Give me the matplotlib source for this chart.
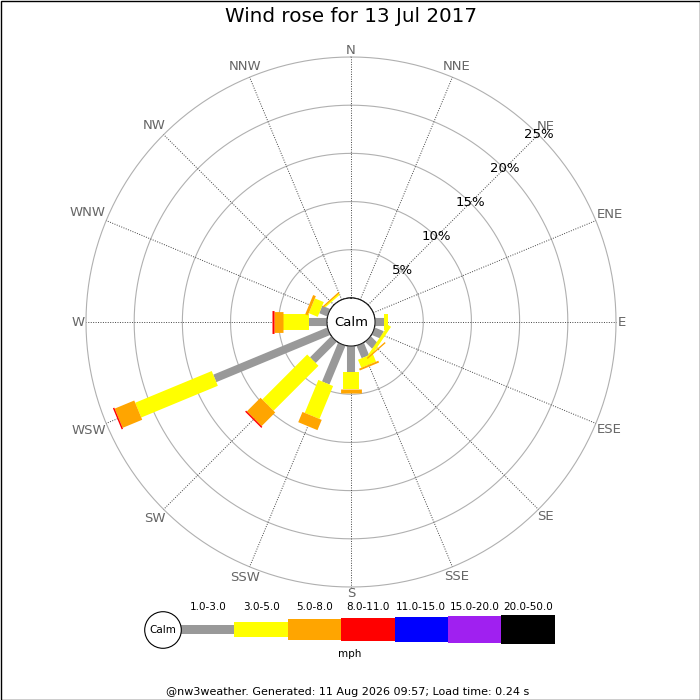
import numpy as np
import matplotlib
matplotlib.use('Agg')
import matplotlib.pyplot as plt
from matplotlib.patches import Rectangle, Circle

# wind directions (compass order)
dirs = ['N', 'NNE', 'NE', 'ENE', 'E', 'ESE', 'SE', 'SSE',
        'S', 'SSW', 'SW', 'WSW', 'W', 'WNW', 'NW', 'NNW']

# percentage of day in each speed class per direction (mph)
spd_labels = ['1.0-3.0', '3.0-5.0', '5.0-8.0', '8.0-11.0', '11.0-15.0', '15.0-20.0', '20.0-50.0']
pct_1_3 = [0, 0, 0, 0, 0.95, 1.0, 1.0, 1.4, 2.7, 4.35, 3.1, 12.8, 1.85, 0.9, 0, 0]
pct_3_5 = [0, 0, 0, 0, 0.4, 0, 0, 0.9, 1.8, 3.7, 6.6, 8.6, 2.75, 1.0, 0, 0]
pct_5_8 = [0, 0, 0, 0, 0, 0, 0, 0.2, 0.4, 1.15, 2.0, 2.2, 0.9, 0.3, 0, 0]
pct_8_11 = [0, 0, 0, 0, 0, 0, 0, 0, 0, 0, 0.15, 0.15, 0.15, 0, 0, 0]
classes = [pct_1_3, pct_3_5, pct_5_8, pct_8_11]

colours = ['#999999', '#ffff00', '#ffa500', '#ff0000', '#0000ff', '#a020f0', '#000000']
widths = [5.8, 11.5, 15, 16.5, 17.5, 19, 20]   # bar thickness in points
rings = [5, 10, 15, 20, 25]

fig = plt.figure(figsize=(7, 7), dpi=100)
ax = fig.add_axes([86/700, 113/700, 530/700, 530/700], projection='polar')
ax.set_theta_zero_location('N')
ax.set_theta_direction(-1)
ax.set_rorigin(-2.5)
ax.set_ylim(0, 25)
ax.grid(False)
ax.set_xticks([])
ax.set_yticks([])
ax.spines['polar'].set_visible(False)

theta = np.deg2rad(np.arange(16) * 22.5)
full = np.linspace(0, 2*np.pi, 361)
scale = 265 / 27.5   # pixels per percent

# rings
for r in rings:
    ax.plot(full, [r]*len(full), color='#b0b0b0', lw=0.8, zorder=1, clip_on=False)
    ax.text(np.deg2rad(45), r, '%d%%' % r, ha='center', va='center', fontsize=9.5, zorder=6)

# spokes + labels (pushed out so the text edge sits just outside the outer ring)
renderer = fig.canvas.get_renderer()
for t, d in zip(theta, dirs):
    ax.plot([t, t], [0, 25], color='#444444', lw=0.7, ls=(0, (1, 1.5)), zorder=1, clip_on=False)
    txt = ax.text(t, 25, d, ha='center', va='center', fontsize=9.5, color='#666666')
    bb = txt.get_window_extent(renderer)
    half = abs(np.sin(t)) * bb.width / 2 + abs(np.cos(t)) * bb.height * 0.7 / 2
    txt.set_position((t, (265 + 1.5 + half) / scale - 2.5))

# calm circle
ax.plot(full, [0]*len(full), color='#333333', lw=0.8, zorder=5)
ax.text(0, -2.5, 'Calm', ha='center', va='center', fontsize=9.5, zorder=6)

# stacked bars
base = np.zeros(16)
for vals, c, w in zip(classes, colours, widths):
    vals = np.array(vals)
    for i in range(16):
        if vals[i] > 0:
            ax.plot([theta[i], theta[i]], [base[i], base[i] + vals[i]], color=c, lw=w,
                    solid_capstyle='butt', zorder=3)
    base = base + vals

# odd thin arcs seen around E and NNW
ax.plot(np.deg2rad([98, 150]), [1.45, 1.45], color='#ffff00', lw=2.4, zorder=3)
ax.plot(np.deg2rad([122, 155]), [1.62, 1.62], color='#ffa500', lw=1.0, zorder=3)
ax.plot(np.deg2rad([300, 336]), [0.75, 0.75], color='#ffa500', lw=1.2, zorder=3)
ax.plot(np.deg2rad([302, 336]), [0.6, 0.6], color='#ffff00', lw=1.0, zorder=3)

fig.text(351/700, 1 - 17/700, 'Wind rose for 13 Jul 2017', ha='center', va='center', fontsize=14.3)

# legend in pixel coordinates
lg = fig.add_axes([0, 0, 1, 1], facecolor='none')
lg.set_xlim(0, 700)
lg.set_ylim(700, 0)
lg.axis('off')
heights = [8.3, 15, 20.3, 23, 25, 26.7, 28.3]
x0 = 181
seg = 53.4
yc = 629.5
for k in range(7):
    lg.add_patch(Rectangle((x0 + k*seg, yc - heights[k]/2), seg, heights[k], color=colours[k], lw=0))
    lg.text(x0 + k*seg + seg/2, 607, spd_labels[k], ha='center', va='center', fontsize=7.5)
lg.add_patch(Circle((163, 630), 18.3, facecolor='white', edgecolor='black', lw=0.8))
lg.text(163, 630, 'Calm', ha='center', va='center', fontsize=7.5)
lg.text(350, 654, 'mph', ha='center', va='center', fontsize=7.5)
lg.text(348, 692, '@nw3weather. Generated: 11 Aug 2026 09:57; Load time: 0.24 s',
        ha='center', va='center', fontsize=8)
lg.add_patch(Rectangle((0.5, 0.5), 699, 699, fill=False, edgecolor='black', lw=1.0))

fig.savefig('out.png', dpi=100)
